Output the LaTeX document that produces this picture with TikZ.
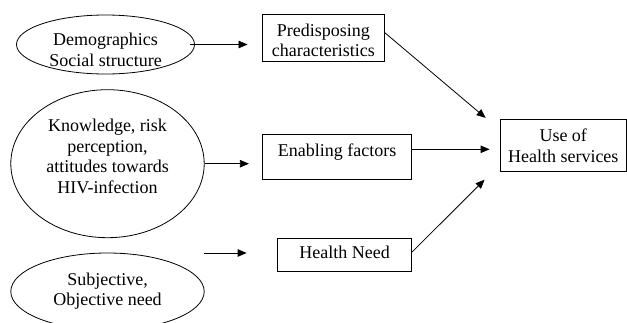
\documentclass[tikz,border=0pt]{standalone}
\usepackage{fontspec}
\setmainfont{Liberation Serif}
\usetikzlibrary{arrows.meta,shapes.geometric,calc}
\newcommand{\mylines}[2]{\raisebox{#1}[\height][\depth]{\begin{tabular}{@{}c@{}}#2\end{tabular}}}
\begin{document}
\begin{tikzpicture}[x=1pt,y=-1pt,
  every node/.style={font=\fontsize{18}{20.5}\selectfont, inner sep=0pt, line width=0.8pt},
  oval/.style={draw, ellipse},
  box/.style={draw, rectangle},
  arr/.style={draw, line width=0.8pt, -{Triangle[length=9pt,width=7.5pt]}}]
\useasboundingbox (0,0) rectangle (627,322);
\node[oval, minimum width=178pt, minimum height=59pt] (e1) at (105.5,44.5) {\mylines{-7.5pt}{Demographics\\Social structure}};
\node[oval, minimum width=193.4pt, minimum height=148pt] (e2) at (107.5,163.7) {\mylines{5.3pt}{Knowledge, risk\\perception,\\attitudes towards\\HIV-infection}};
\node[oval, minimum width=193.4pt, minimum height=77pt] (e3) at (107.5,291.5) {\mylines{0pt}{Subjective,\\Objective need}};
\node[box, minimum width=121.3pt, minimum height=47.4pt] (p1) at (323.3,38) {\mylines{-4.2pt}{Predisposing\\characteristics}};
\node[box, minimum width=149pt, minimum height=45pt] (en) at (337.2,156.5) {\mylines{4.6pt}{Enabling factors}};
\node[box, minimum width=134pt, minimum height=32.7pt] (hn) at (344.7,254.7) {\mylines{0pt}{Health Need}};
\node[box, minimum width=126.5pt, minimum height=52pt] (use) at (563.25,145) {\mylines{-2.9pt}{Use of\\Health services}};
\draw[arr] ($(e1.east)+(-5,0)$) -- ($(e1.east -| p1.west)+(-14.7,0)$);
\draw[arr] (e2.east) -- ($(e2.east -| en.west)+(-13.4,0)$);
\coordinate (h0) at ($(e3.east |- hn.west)+(-1,-1.7)$);
\draw[arr] (h0) -- ($(h0 -| hn.west)+(-30.7,0)$);
\draw[arr] ($(p1.east)+(0,-5.7)$) -- ($(use.north west)+(-14,-0.7)$);
\coordinate (q) at ($(en.east)+(0,-7.2)$);
\draw[arr] (q) -- ($(q -| use.west)+(-10,0)$);
\draw[arr] ($(hn.east)+(0,-2.7)$) -- ($(use.south west)+(-15,8.3)$);
\end{tikzpicture}
\end{document}
